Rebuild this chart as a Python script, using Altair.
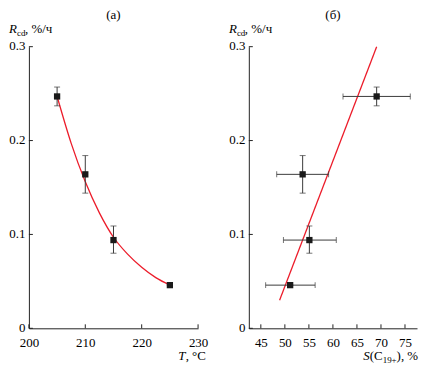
import altair as alt
import pandas as pd

# ---- data ----
T = [205, 210, 215, 225]
R = [0.247, 0.164, 0.094, 0.046]
R_lo = [0.237, 0.144, 0.080, 0.046]
R_hi = [0.257, 0.184, 0.109, 0.046]

T_fit = [205, 207.5, 210, 212.5, 215, 217.5, 220, 222.5, 225]
R_fit = [0.247, 0.197, 0.156, 0.123, 0.097, 0.079, 0.065, 0.054, 0.046]

S = [69.1, 53.7, 55.1, 51.1]
S_lo = [62.1, 48.3, 49.7, 46.0]
S_hi = [76.1, 59.1, 60.7, 56.3]

S_fit = [48.9, 69.1]
R_fit2 = [0.030, 0.300]

x_ticks_a = [200, 210, 220, 230]
x_ticks_b = [45, 50, 55, 60, 65, 70, 75]
y_ticks = [0, 0.1, 0.2, 0.3]

W1, W2, H = 170, 169, 283
FONT = "'Liberation Serif', 'Times New Roman', 'DejaVu Serif', serif"
FS = 13
RED = "#ec1c2a"
INK = "#1a1a1a"
BAR = "#3a3a3a"


def axis_x(values):
    return alt.Axis(values=values, tickSize=0, labelPadding=8, labelFont=FONT,
                    labelFontSize=FS, labelColor="black", domainColor="#222",
                    grid=False, title=None, labelFlush=False)


def axis_y():
    return alt.Axis(values=y_ticks, tickSize=0, labelPadding=4, labelFont=FONT,
                    labelFontSize=FS, labelColor="black", domainColor="#222",
                    grid=False, title=None, labelOffset=-1,
                    labelExpr="datum.value == 0 ? '0' : format(datum.value, '.1f')")


def txt(s, x, y, size=FS, italic=False):
    return alt.Chart(pd.DataFrame({"k": [0]})).mark_text(
        text=s, font=FONT, fontSize=size, fontStyle="italic" if italic else "normal",
        align="left", baseline="alphabetic", color="black"
    ).encode(x=alt.value(x), y=alt.value(y))


def panel(xd, xt, W, pts, fit, xerr):
    xs = alt.Scale(domain=xd, nice=False, zero=False)
    ys = alt.Scale(domain=[0, 0.3], nice=False)
    X = lambda f: alt.X(f, type="quantitative", scale=xs, axis=axis_x(xt))
    Y = lambda f: alt.Y(f, type="quantitative", scale=ys, axis=axis_y())

    base = alt.Chart(pts)
    layers = []
    layers.append(alt.Chart(fit).mark_line(color=RED, strokeWidth=1.3, interpolate="monotone").encode(
        x=X("x"), y=Y("y")))
    # vertical error bars
    layers.append(base.mark_rule(color=BAR, strokeWidth=1).encode(x=X("x"), y=Y("ylo"), y2="yhi"))
    layers.append(base.mark_tick(color=BAR, orient="horizontal", size=6, thickness=1).encode(x=X("x"), y=Y("ylo")))
    layers.append(base.mark_tick(color=BAR, orient="horizontal", size=6, thickness=1).encode(x=X("x"), y=Y("yhi")))
    if xerr:
        layers.append(base.mark_rule(color=BAR, strokeWidth=1).encode(x=X("xlo"), x2="xhi", y=Y("y")))
        layers.append(base.mark_tick(color=BAR, orient="vertical", size=6, thickness=1).encode(x=X("xlo"), y=Y("y")))
        layers.append(base.mark_tick(color=BAR, orient="vertical", size=6, thickness=1).encode(x=X("xhi"), y=Y("y")))
    layers.append(base.mark_square(size=40, color=INK, opacity=1).encode(x=X("x"), y=Y("y")))
    # inward ticks
    layers.append(alt.Chart(pd.DataFrame({"t": xt})).mark_rule(color="#222", strokeWidth=1).encode(
        x=X("t"), y=alt.value(H), y2=alt.value(H - 4)))
    layers.append(alt.Chart(pd.DataFrame({"t": y_ticks})).mark_rule(color="#222", strokeWidth=1).encode(
        y=Y("t"), x=alt.value(0), x2=alt.value(4)))
    # y label R_cd, %/ч
    layers.append(txt("R", -20, -14, italic=True))
    layers.append(txt("cd", -12, -11, size=9))
    layers.append(txt(", %/ч", -4, -14))
    return layers


pa = pd.DataFrame({"x": T, "y": R, "ylo": R_lo, "yhi": R_hi})
fa = pd.DataFrame({"x": T_fit, "y": R_fit})
pb = pd.DataFrame({"x": S, "y": R, "ylo": R_lo, "yhi": R_hi, "xlo": S_lo, "xhi": S_hi})
fb = pd.DataFrame({"x": S_fit, "y": R_fit2})

la = panel([200, 230], x_ticks_a, W1, pa, fa, False)
la += [txt("T", W1 - 20, H + 32, italic=True), txt(", °C", W1 - 12.5, H + 32)]

lb = panel([42.5, 77.5], x_ticks_b, W2, pb, fb, True)
lb += [txt("S", W2 - 54, H + 32, italic=True), txt("(C", W2 - 47.5, H + 32),
       txt("19+", W2 - 34.5, H + 35, size=9), txt("), %", W2 - 20.5, H + 32)]

title_style = dict(font=FONT, fontSize=FS, fontWeight="normal", anchor="middle", color="black", offset=1)

ca = alt.layer(*la).properties(width=W1, height=H, title=alt.TitleParams("(а)", **title_style))
cb = alt.layer(*lb).properties(width=W2, height=H, title=alt.TitleParams("(б)", **title_style))

chart = alt.hconcat(ca, cb, spacing=20).properties(padding=0).configure_view(strokeWidth=0)

chart.save("out.html", embed_options={"renderer": "svg", "actions": False})
